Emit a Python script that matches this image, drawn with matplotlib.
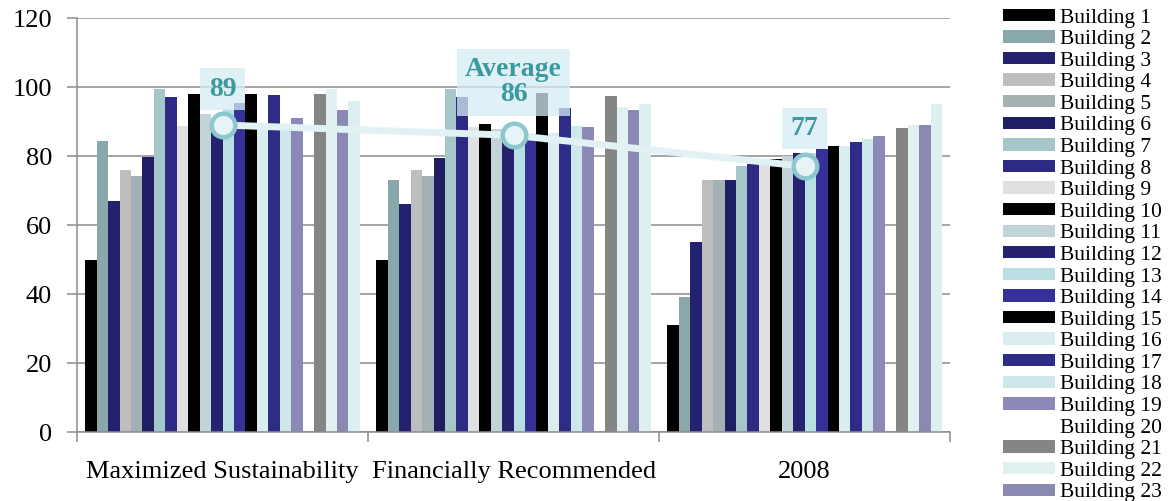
import numpy as np
import matplotlib
matplotlib.use('Agg')
from matplotlib import pyplot as plt

plt.rcParams['font.family'] = ['Liberation Serif', 'DejaVu Serif']

categories = ['Maximized Sustainability', 'Financially Recommended', '2008']
buildings = ['Building %d' % i for i in range(1, 25)]

# one row per building: [Maximized, Financial, 2008]
values = [
    [50, 50, 31],
    [84.3, 73, 39],
    [67, 66, 55],
    [76, 76, 73],
    [74.3, 74.3, 73],
    [79.8, 79.5, 73],
    [99.3, 99.3, 77],
    [97.2, 97.2, 77.8],
    [88.7, 88.3, 77.5],
    [98, 89.3, 79],
    [92.2, 87.7, 80.1],
    [90, 86, 81],
    [93.6, 86, 81],
    [95.4, 86.3, 81.9],
    [98, 98.2, 82.9],
    [89, 86.6, 83],
    [97.8, 93.8, 84],
    [88, 88.7, 84.9],
    [91.1, 88.5, 85.9],
    [0, 0, 0],
    [97.9, 97.4, 88],
    [99.3, 94.1, 89],
    [93.3, 93.3, 89],
    [96, 95.2, 95],
]
colors = ['#000000', '#8AA8AA', '#24216E', '#BEBEBE', '#A3B1B2', '#1F1D64',
          '#A5C7CA', '#2C2A85', '#E0E0E0', '#000000', '#C2D4D7', '#25236F',
          '#BADFE2', '#353198', '#000000', '#DAEDEF', '#2E2C87', '#CDE7EA',
          '#8A89B7', '#FFFFFF', '#858585', '#E1F0F0', '#8A89B2', '#DDEFF0']

average = [89, 86, 77]
avg_labels = ['89', 'Average\n86', '77']
avg_offsets = [10.4, 15.4, 11]

fig = plt.figure(figsize=(11.76, 5.01), dpi=100)
ax = fig.add_axes([0.0655, 0.1377, 0.7425, 0.8263])

x = np.arange(len(categories))
w = 0.0393
handles = []
for i in range(len(buildings)):
    b = ax.bar(x + (i - 11.5) * w, values[i], w, color=colors[i], zorder=2,
               label=buildings[i])
    handles.append(b)

ax.plot(x, average, color='#E2F2F4', lw=5, zorder=3,
        marker='o', markersize=17, markerfacecolor='#E6F4F5',
        markeredgecolor='#8DC8CE', markeredgewidth=3.2)

for i in range(3):
    ax.text(x[i], average[i] + avg_offsets[i], avg_labels[i], ha='center', va='center',
            fontsize=20, fontweight='bold', color='#3B9A9F', linespacing=1.0, zorder=4,
            bbox=dict(boxstyle='square,pad=0.3', fc='#D5ECF3', ec='none', alpha=0.75))

ax.set_xlim(-0.5, 2.5)
ax.set_ylim(0, 120)
ax.set_yticks(range(0, 121, 20))
ax.yaxis.grid(True, color='#8C8C8C', lw=1.1, zorder=0)
ax.set_axisbelow(True)
for s in ['top', 'right']:
    ax.spines[s].set_visible(False)
for s in ['left', 'bottom']:
    ax.spines[s].set_color('#8C8C8C')
    ax.spines[s].set_linewidth(1.1)

ax.set_xticks(x)
ax.set_xticklabels(categories)
ax.set_xticks([-0.5, 0.5, 1.5, 2.5], minor=True)
ax.tick_params(axis='x', which='major', length=0, pad=21, labelsize=19)
ax.tick_params(axis='x', which='minor', length=7, width=1.1, color='#8C8C8C', direction='out')
ax.tick_params(axis='y', length=7, width=1.1, color='#8C8C8C', pad=11, labelsize=19)

fig.legend(handles[:23], buildings[:23], loc='upper left', bbox_to_anchor=(0.853, 0.983),
           frameon=False, fontsize=15.5, handlelength=2.4, handleheight=0.5,
           handletextpad=0.25, labelspacing=0.12, borderaxespad=0, borderpad=0)

plt.savefig('out.png', dpi=100)
